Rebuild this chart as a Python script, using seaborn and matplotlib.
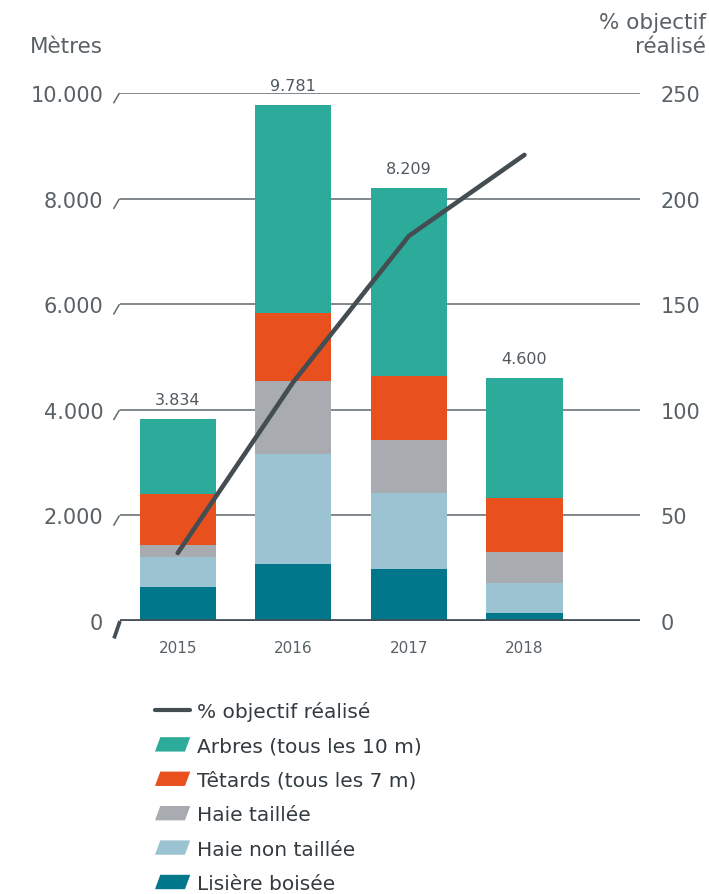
import matplotlib
matplotlib.use("Agg")
import matplotlib.pyplot as plt
import matplotlib.transforms as mtransforms
from matplotlib.patches import Polygon, Patch
from matplotlib.lines import Line2D
from matplotlib.legend_handler import HandlerPatch
import seaborn as sns
import numpy as np

# ---- data ----
years = ["2015", "2016", "2017", "2018"]
lisiere = [650, 1081, 986, 157]
haie_non_taillee = [569, 2086, 1441, 563]
haie_taillee = [227, 1384, 1005, 588]
tetards = [960, 1289, 1213, 1030]
arbres = [1428, 3941, 3564, 2262]
totals = [3834, 9781, 8209, 4600]
total_labels = ["3.834", "9.781", "8.209", "4.600"]
pct_objectif = [32.2, 113.2, 182.3, 220.7]

left_ticks = [0, 2000, 4000, 6000, 8000, 10000]
left_tick_labels = ["0", "2.000", "4.000", "6.000", "8.000", "10.000"]
right_ticks = [0, 50, 100, 150, 200, 250]

series_names = ["Lisière boisée", "Haie non taillée", "Haie taillée",
                "Têtards (tous les 7 m)", "Arbres (tous les 10 m)"]
series_vals = [lisiere, haie_non_taillee, haie_taillee, tetards, arbres]
series_colors = ["#00778a", "#9cc3d1", "#a8abaf", "#e8501e", "#2cab9a"]
line_label = "% objectif réalisé"
line_color = "#434d52"

sns.set_theme(style="white")
plt.rcParams["font.family"] = ["DejaVu Sans"]

W, H = 709, 895
fig = plt.figure(figsize=(W / 100, H / 100), dpi=100)
ax_left, ax_right, ax_top, ax_bot = 120, 640, 94, 622
ax = fig.add_axes([ax_left / W, 1 - ax_bot / H, (ax_right - ax_left) / W, (ax_bot - ax_top) / H])

tick_color = "#596166"
grid_color = "#5f686d"

bottom = np.zeros(len(years))
for name, vals, col in zip(series_names, series_vals, series_colors):
    sns.barplot(x=years, y=vals, bottom=bottom, color=col, width=0.66,
                saturation=1, ax=ax, linewidth=0, zorder=2)
    bottom = bottom + np.array(vals)

ax.set_xlim(-0.5, 4.0)
ax.set_ylim(0, 10000)
ax.set_yticks(left_ticks)
ax.set_yticklabels(left_tick_labels)
ax.tick_params(axis="y", length=0, pad=12, labelsize=15, labelcolor=tick_color)
ax.tick_params(axis="x", length=0, pad=13.5, labelsize=11, labelcolor=tick_color)
ax.set_xlabel("")
ax.set_ylabel("")
for s in ax.spines.values():
    s.set_visible(False)
ax.set_axisbelow(True)
for v in left_ticks[1:]:
    ax.axhline(v, color=grid_color, lw=1.1, zorder=0.5)
ax.axhline(0, color="#454f55", lw=2.7, zorder=3)

# slanted tick decorations at left ends of grid lines
trans = mtransforms.blended_transform_factory(ax.transAxes, ax.transData)
for v in left_ticks[1:]:
    ax.plot([-0.0125, -0.001], [v - 195, v], transform=trans, color=grid_color,
            lw=1.1, clip_on=False, solid_capstyle="butt")
ax.plot([-0.0115, 0.0], [-330, 0], transform=trans, color="#454f55",
        lw=2.7, clip_on=False, solid_capstyle="butt")

# bar total labels
for i, (t, lab) in enumerate(zip(totals, total_labels)):
    ax.annotate(lab, xy=(i, t), xytext=(0, 8.5), textcoords="offset points",
                ha="center", va="bottom", fontsize=11.5, color="#50585d")

# right axis with line
ax2 = ax.twinx()
sns.lineplot(x=[0, 1, 2, 3], y=pct_objectif, ax=ax2, color=line_color, lw=3.3,
             solid_capstyle="round", solid_joinstyle="round", zorder=5)
ax2.set_ylim(0, 250)
ax2.set_yticks(right_ticks)
ax2.set_yticklabels([str(t) for t in right_ticks])
ax2.tick_params(axis="y", length=0, pad=15, labelsize=15, labelcolor=tick_color)
ax2.set_ylabel("")
for s in ax2.spines.values():
    s.set_visible(False)
ax2.grid(False)

# axis titles
fig.text(103 / W, 1 - 47 / H, "Mètres", ha="right", va="center", fontsize=15.5, color=tick_color)
fig.text(706 / W, 1 - 35 / H, "% objectif\nréalisé", ha="right", va="center",
         fontsize=15.5, color=tick_color, linespacing=1.2, multialignment="right")

# legend with parallelogram patches
def para_patch(legend, orig_handle, xdescent, ydescent, width, height, fontsize):
    s = 0.15 * width
    x0, y0 = -xdescent, -ydescent
    return Polygon([(x0, y0), (x0 + width - s, y0), (x0 + width, y0 + height), (x0 + s, y0 + height)],
                   closed=True)

handles = [Line2D([0], [0], color=line_color, lw=3)]
labels = [line_label]
for name, col in list(zip(series_names, series_colors))[::-1]:
    handles.append(Patch(facecolor=col, edgecolor="none"))
    labels.append(name)

leg = fig.legend(handles, labels, loc="upper left", bbox_to_anchor=(155 / W, 1 - 702 / H),
                 frameon=False, fontsize=14.5, handlelength=1.75, handletextpad=0.35,
                 handleheight=0.72, labelspacing=0.765, borderpad=0, borderaxespad=0,
                 handler_map={Patch: HandlerPatch(patch_func=para_patch)})
for t in leg.get_texts():
    t.set_color("#333b40")

fig.savefig("out.png", dpi=100)
